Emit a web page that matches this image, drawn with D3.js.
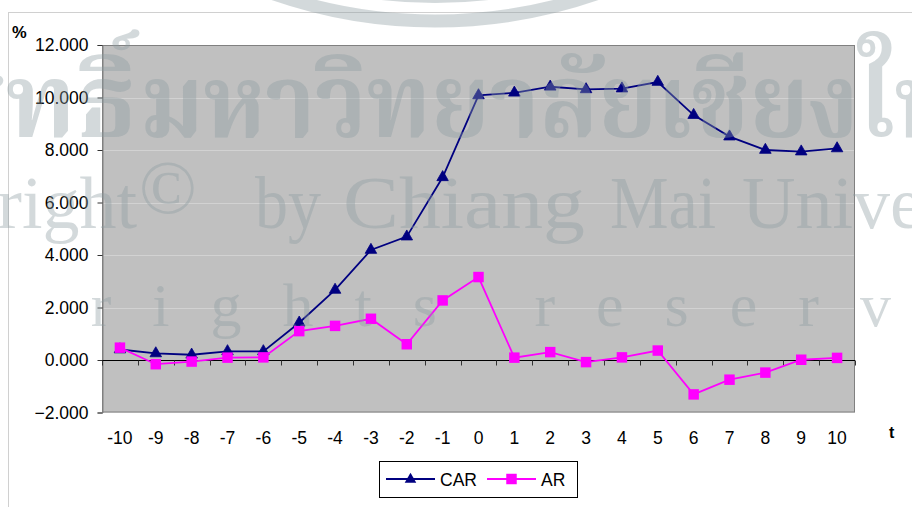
<!DOCTYPE html>
<html><head><meta charset="utf-8">
<script src="https://cdn.jsdelivr.net/npm/d3@7/dist/d3.min.js"></script>
<style>
html,body{margin:0;padding:0;background:#fff;}
svg{display:block;}
</style></head>
<body>
<svg id="chart" width="912" height="507"></svg>
<script>
const categories = [-10,-9,-8,-7,-6,-5,-4,-3,-2,-1,0,1,2,3,4,5,6,7,8,9,10];
const carValues = [0.40,0.25,0.20,0.33,0.33,1.42,2.67,4.19,4.70,6.96,10.08,10.18,10.41,10.31,10.34,10.59,9.33,8.51,8.00,7.94,8.06];
const arValues  = [0.47,-0.16,-0.06,0.09,0.10,1.10,1.30,1.57,0.60,2.27,3.16,0.09,0.30,-0.08,0.10,0.36,-1.31,-0.75,-0.48,0.01,0.08];
const yTicks = [-2,0,2,4,6,8,10,12];
const seriesNames = ["CAR","AR"];

const svg = d3.select("#chart");
const FONT = "'Liberation Sans', Arial, sans-serif";
const SERIF = "'Liberation Serif', 'Times New Roman', serif";
const THAI = "'Noto Serif Thai','Noto Sans Thai','Loma','Garuda',"+SERIF;
const plot = {left:102, right:855, top:45, bottom:412.5};

// outer chart border
svg.append("rect").attr("x",8.5).attr("y",12.5).attr("width",930).attr("height",520)
  .attr("fill","#fff").attr("stroke","#d0d0d0").attr("stroke-width",1);

const x = d3.scaleBand().domain(categories).range([plot.left, plot.right]).padding(0);
const y = d3.scaleLinear().domain([-2,12]).range([plot.bottom, plot.top]);

// plot area
svg.append("rect").attr("x",plot.left).attr("y",plot.top)
  .attr("width",plot.right-plot.left).attr("height",plot.bottom-plot.top)
  .attr("fill","#c0c0c0");

// gridlines
svg.append("g").selectAll("line").data(yTicks.filter(d=>d!==0 && d!==-2 && d!==12)).join("line")
  .attr("x1",plot.left).attr("x2",plot.right)
  .attr("y1",d=>Math.round(y(d))+0.5).attr("y2",d=>Math.round(y(d))+0.5)
  .attr("stroke","#d2d2d2").attr("stroke-width",1);

// plot border
svg.append("rect").attr("x",plot.left+0.5).attr("y",plot.top+0.5)
  .attr("width",plot.right-plot.left-1).attr("height",plot.bottom-plot.top-1)
  .attr("fill","none").attr("stroke","#808080").attr("stroke-width",1);

// y axis
const yAxis = d3.axisLeft(y).tickValues(yTicks).tickSize(5).tickPadding(9)
  .tickFormat(d3.format(".3f"));
const gy = svg.append("g").attr("transform",`translate(${plot.left+0.5},0)`).call(yAxis);
gy.select(".domain").attr("stroke","#808080");
gy.selectAll(".tick line").attr("stroke","#333");
gy.selectAll(".tick text").attr("font-family",FONT).attr("font-size",17.5).attr("fill","#000");

// zero line (category axis) with ticks at band boundaries
const zeroY = Math.round(y(0))+0.5;
svg.append("line").attr("x1",plot.left).attr("x2",plot.right).attr("y1",zeroY).attr("y2",zeroY)
  .attr("stroke","#000").attr("stroke-width",1.2);
const bounds = categories.map(c=>x(c)).concat([plot.right]);
svg.append("g").selectAll("line").data(bounds).join("line")
  .attr("x1",d=>Math.round(d)+0.5).attr("x2",d=>Math.round(d)+0.5)
  .attr("y1",zeroY).attr("y2",zeroY+5).attr("stroke","#333");

// x labels below plot
svg.append("g").selectAll("text").data(categories).join("text")
  .attr("x",d=>x(d)+x.bandwidth()/2).attr("y",444)
  .attr("text-anchor","middle").attr("font-family",FONT).attr("font-size",17.5)
  .text(d=>d);

// axis unit labels
svg.append("text").attr("x",12).attr("y",38).attr("font-family",FONT).attr("font-weight","bold")
  .attr("font-size",16.5).text("%");
svg.append("text").attr("x",889).attr("y",438).attr("font-family",FONT).attr("font-weight","bold")
  .attr("font-size",16).text("t");

const cx = d => x(d)+x.bandwidth()/2;
const line = d3.line().x(d=>cx(d[0])).y(d=>y(d[1]));
const carData = categories.map((c,i)=>[c,carValues[i]]);
const arData = categories.map((c,i)=>[c,arValues[i]]);

const tri = d3.symbol().type(d3.symbolTriangle).size(58);
const sq = d3.symbol().type(d3.symbolSquare).size(110);

svg.append("path").datum(carData).attr("d",line).attr("fill","none")
  .attr("stroke","#000080").attr("stroke-width",1.8);
svg.append("g").selectAll("path").data(carData).join("path")
  .attr("d",tri).attr("transform",d=>`translate(${cx(d[0])},${y(d[1])})`)
  .attr("fill","#000080").attr("stroke","#000080").attr("stroke-width",0.8);

svg.append("path").datum(arData).attr("d",line).attr("fill","none")
  .attr("stroke","#ff00ff").attr("stroke-width",1.8);
svg.append("g").selectAll("path").data(arData).join("path")
  .attr("d",sq).attr("transform",d=>`translate(${cx(d[0])},${y(d[1])})`)
  .attr("fill","#ff00ff");

// legend
const lg = svg.append("g");
lg.append("rect").attr("x",379.5).attr("y",461.5).attr("width",198).attr("height",36)
  .attr("fill","#fff").attr("stroke","#000").attr("stroke-width",1);
lg.append("line").attr("x1",386).attr("x2",435).attr("y1",479).attr("y2",479)
  .attr("stroke","#000080").attr("stroke-width",1.8);
lg.append("path").attr("d",tri).attr("transform","translate(410.5,479.5)").attr("fill","#000080");
lg.append("text").attr("x",440).attr("y",485.5).attr("font-family",FONT).attr("font-size",17.5).text(seriesNames[0]);
lg.append("line").attr("x1",487).attr("x2",536).attr("y1",479).attr("y2",479)
  .attr("stroke","#ff00ff").attr("stroke-width",1.8);
lg.append("path").attr("d",sq).attr("transform","translate(511.5,479)").attr("fill","#ff00ff");
lg.append("text").attr("x",541).attr("y",485.5).attr("font-family",FONT).attr("font-size",17.5).text(seriesNames[1]);

// watermark overlay (scanned page)
const WM = "rgb(140,155,160)";
const wm = svg.append("g").attr("fill",WM).attr("fill-opacity",0.38);
svg.append("circle").attr("cx",435).attr("cy",-472).attr("r",493).attr("fill","none")
  .attr("stroke",WM).attr("stroke-opacity",0.38).attr("stroke-width",13);
svg.append("circle").attr("cx",435).attr("cy",-472).attr("r",470).attr("fill","none")
  .attr("stroke",WM).attr("stroke-opacity",0.38).attr("stroke-width",10);
wm.append("text").attr("x",137).attr("y",137).attr("text-anchor","end")
  .attr("font-family",THAI).attr("font-weight","bold").attr("font-size",104).text("ลิขสิทธิ์");
wm.append("text").attr("x",140).attr("y",137).attr("textLength",880).attr("lengthAdjust","spacingAndGlyphs")
  .attr("font-family",THAI).attr("font-weight","bold").attr("font-size",104).text("มหาวิทยาลัยเชียงใหม่");
wm.append("text").attr("x",137).attr("y",228).attr("text-anchor","end")
  .attr("font-family",SERIF).attr("font-size",74).text("Copyright");
wm.append("text").attr("x",139).attr("y",213)
  .attr("font-family",SERIF).attr("font-size",76).text("©");
wm.append("text").attr("x",255).attr("y",228).attr("textLength",66).attr("lengthAdjust","spacingAndGlyphs")
  .attr("font-family",SERIF).attr("font-size",74).text("by");
wm.append("text").attr("x",343).attr("y",228).attr("textLength",242).attr("lengthAdjust","spacingAndGlyphs")
  .attr("font-family",SERIF).attr("font-size",74).text("Chiang");
wm.append("text").attr("x",610).attr("y",228).attr("textLength",106).attr("lengthAdjust","spacingAndGlyphs")
  .attr("font-family",SERIF).attr("font-size",74).text("Mai");
wm.append("text").attr("x",742).attr("y",228)
  .attr("font-family",SERIF).attr("font-size",74).text("University");
wm.append("text").attr("x",-168).attr("y",326).attr("letter-spacing",41)
  .attr("font-family",SERIF).attr("font-size",62).text("All rights reserved");
</script>
</body></html>
